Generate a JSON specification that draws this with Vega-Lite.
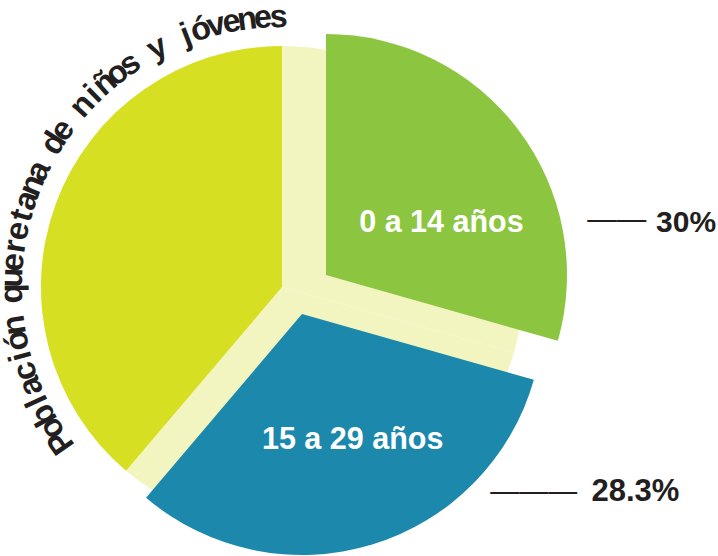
{
  "$schema": "https://vega.github.io/schema/vega-lite/v6.json",
  "autosize": {"type": "none"},
  "width": 564,
  "height": 538,
  "padding": {"left": 0, "top": 18, "right": 154, "bottom": 0},
  "background": "white",
  "config": {"view": {"stroke": null}},
  "resolve": {"scale": {"theta": "independent", "angle": "independent"}},
  "layer": [
    {
      "data": {
        "values": [
          {"grupo": "0 a 14 años", "valor": 29.4, "etiqueta": "30%"},
          {"grupo": "15 a 29 años", "valor": 31.8, "etiqueta": "28.3%"},
          {"grupo": "30 años y más", "valor": 38.8, "etiqueta": ""}
        ]
      },
      "transform": [
        {"stack": "valor", "groupby": [], "sort": [{"field": "grupo", "order": "ascending"}], "as": ["v0", "v1"]}
      ],
      "layer": [
        {
          "mark": {"type": "arc", "radius": 241, "color": "#f2f5c0"},
          "encoding": {
            "theta": {"field": "v0", "type": "quantitative", "stack": null, "scale": {"domain": [0, 100], "range": [0, 6.283185]}},
            "theta2": {"field": "v1"}
          }
        },
        {
          "transform": [{"filter": "datum.grupo == '30 años y más'"}],
          "mark": {"type": "arc", "radius": 241},
          "encoding": {
            "theta": {"field": "v0", "type": "quantitative", "stack": null, "scale": {"domain": [0, 100], "range": [0, 6.283185]}},
            "theta2": {"field": "v1"},
            "color": {"field": "grupo", "type": "nominal", "legend": null, "scale": {"domain": ["0 a 14 años", "15 a 29 años", "30 años y más"], "range": ["#8cc641", "#1b88ac", "#d6df22"]}}
          }
        },
        {
          "transform": [{"filter": "datum.grupo == '0 a 14 años'"}],
          "mark": {"type": "arc", "radius": 241, "xOffset": 44, "yOffset": -12},
          "encoding": {
            "theta": {"field": "v0", "type": "quantitative", "stack": null, "scale": {"domain": [0, 100], "range": [0, 6.283185]}},
            "theta2": {"field": "v1"},
            "color": {"field": "grupo", "type": "nominal", "legend": null, "scale": {"domain": ["0 a 14 años", "15 a 29 años", "30 años y más"], "range": ["#8cc641", "#1b88ac", "#d6df22"]}}
          }
        },
        {
          "transform": [{"filter": "datum.grupo == '15 a 29 años'"}],
          "mark": {"type": "arc", "radius": 241, "xOffset": 20, "yOffset": 27},
          "encoding": {
            "theta": {"field": "v0", "type": "quantitative", "stack": null, "scale": {"domain": [0, 100], "range": [0, 6.283185]}},
            "theta2": {"field": "v1"},
            "color": {"field": "grupo", "type": "nominal", "legend": null, "scale": {"domain": ["0 a 14 años", "15 a 29 años", "30 años y más"], "range": ["#8cc641", "#1b88ac", "#d6df22"]}}
          }
        },
        {
          "transform": [{"filter": "datum.grupo == '0 a 14 años'"}],
          "mark": {"type": "text", "radius": 123.3, "thetaOffset": 1.2121, "xOffset": 44, "yOffset": -12, "align": "center", "baseline": "alphabetic", "font": "Liberation Sans", "fontWeight": "bold", "fontSize": 30.5, "color": "white"},
          "encoding": {
            "theta": {"field": "v0", "type": "quantitative", "stack": null, "scale": {"domain": [0, 100], "range": [0, 6.283185]}},
            "text": {"field": "grupo"}
          }
        },
        {
          "transform": [{"filter": "datum.grupo == '0 a 14 años'"}],
          "mark": {"type": "text", "radius": 332.8, "thetaOffset": 1.4421, "xOffset": 44, "yOffset": -12, "align": "left", "baseline": "alphabetic", "font": "Liberation Sans", "fontWeight": "bold", "fontSize": 30, "color": "#231f20"},
          "encoding": {
            "theta": {"field": "v0", "type": "quantitative", "stack": null, "scale": {"domain": [0, 100], "range": [0, 6.283185]}},
            "text": {"field": "etiqueta"}
          }
        },
        {
          "transform": [{"filter": "datum.grupo == '0 a 14 años'"}],
          "mark": {"type": "text", "radius": 265.4, "thetaOffset": 1.3951, "xOffset": 44, "yOffset": -12, "align": "left", "baseline": "alphabetic", "font": "Liberation Sans", "fontSize": 29.5, "color": "#231f20"},
          "encoding": {
            "theta": {"field": "v0", "type": "quantitative", "stack": null, "scale": {"domain": [0, 100], "range": [0, 6.283185]}},
            "text": {"value": "——"}
          }
        },
        {
          "transform": [{"filter": "datum.grupo == '15 a 29 años'"}],
          "mark": {"type": "text", "radius": 143.9, "thetaOffset": 0.9347, "xOffset": 20, "yOffset": 27, "align": "center", "baseline": "alphabetic", "font": "Liberation Sans", "fontWeight": "bold", "fontSize": 30.5, "color": "white"},
          "encoding": {
            "theta": {"field": "v0", "type": "quantitative", "stack": null, "scale": {"domain": [0, 100], "range": [0, 6.283185]}},
            "text": {"field": "grupo"}
          }
        },
        {
          "transform": [{"filter": "datum.grupo == '15 a 29 años'"}],
          "mark": {"type": "text", "radius": 344.4, "thetaOffset": 0.2965, "xOffset": 20, "yOffset": 27, "align": "left", "baseline": "alphabetic", "font": "Liberation Sans", "fontWeight": "bold", "fontSize": 31, "color": "#231f20"},
          "encoding": {
            "theta": {"field": "v0", "type": "quantitative", "stack": null, "scale": {"domain": [0, 100], "range": [0, 6.283185]}},
            "text": {"field": "etiqueta"}
          }
        },
        {
          "transform": [{"filter": "datum.grupo == '15 a 29 años'"}],
          "mark": {"type": "text", "radius": 265.4, "thetaOffset": 0.5052, "xOffset": 20, "yOffset": 27, "align": "left", "baseline": "alphabetic", "font": "Liberation Sans", "fontSize": 28.9, "color": "#231f20"},
          "encoding": {
            "theta": {"field": "v0", "type": "quantitative", "stack": null, "scale": {"domain": [0, 100], "range": [0, 6.283185]}},
            "text": {"value": "———"}
          }
        }
      ]
    },
    {
      "data": {
        "values": [
          {"c": "P", "k": 0}, {"c": "o", "k": 1}, {"c": "b", "k": 2}, {"c": "l", "k": 3}, {"c": "a", "k": 4},
          {"c": "c", "k": 5}, {"c": "i", "k": 6}, {"c": "ó", "k": 7}, {"c": "n", "k": 8}, {"c": " ", "k": 9},
          {"c": "q", "k": 10}, {"c": "u", "k": 11}, {"c": "e", "k": 12}, {"c": "r", "k": 13}, {"c": "e", "k": 14},
          {"c": "t", "k": 15}, {"c": "a", "k": 16}, {"c": "n", "k": 17}, {"c": "a", "k": 18}, {"c": " ", "k": 19},
          {"c": "d", "k": 20}, {"c": "e", "k": 21}, {"c": " ", "k": 22}, {"c": "n", "k": 23}, {"c": "i", "k": 24},
          {"c": "ñ", "k": 25}, {"c": "o", "k": 26}, {"c": "s", "k": 27}, {"c": " ", "k": 28}, {"c": "y", "k": 29},
          {"c": " ", "k": 30}, {"c": "j", "k": 31}, {"c": "ó", "k": 32}, {"c": "v", "k": 33}, {"c": "e", "k": 34},
          {"c": "n", "k": 35}, {"c": "e", "k": 36}, {"c": "s", "k": 37}
        ]
      },
      "mark": {"type": "text", "radius": 260, "align": "center", "baseline": "alphabetic", "font": "Liberation Sans", "fontWeight": "bold", "fontSize": 32.5, "color": "#231f20"},
      "encoding": {
        "theta": {"field": "k", "type": "quantitative", "stack": null, "scale": {"domain": [0, 37], "range": [4.1015, 6.271]}},
        "angle": {"field": "k", "type": "quantitative", "scale": {"domain": [0, 37], "range": [235, 359.3]}},
        "text": {"field": "c"}
      }
    }
  ]
}
